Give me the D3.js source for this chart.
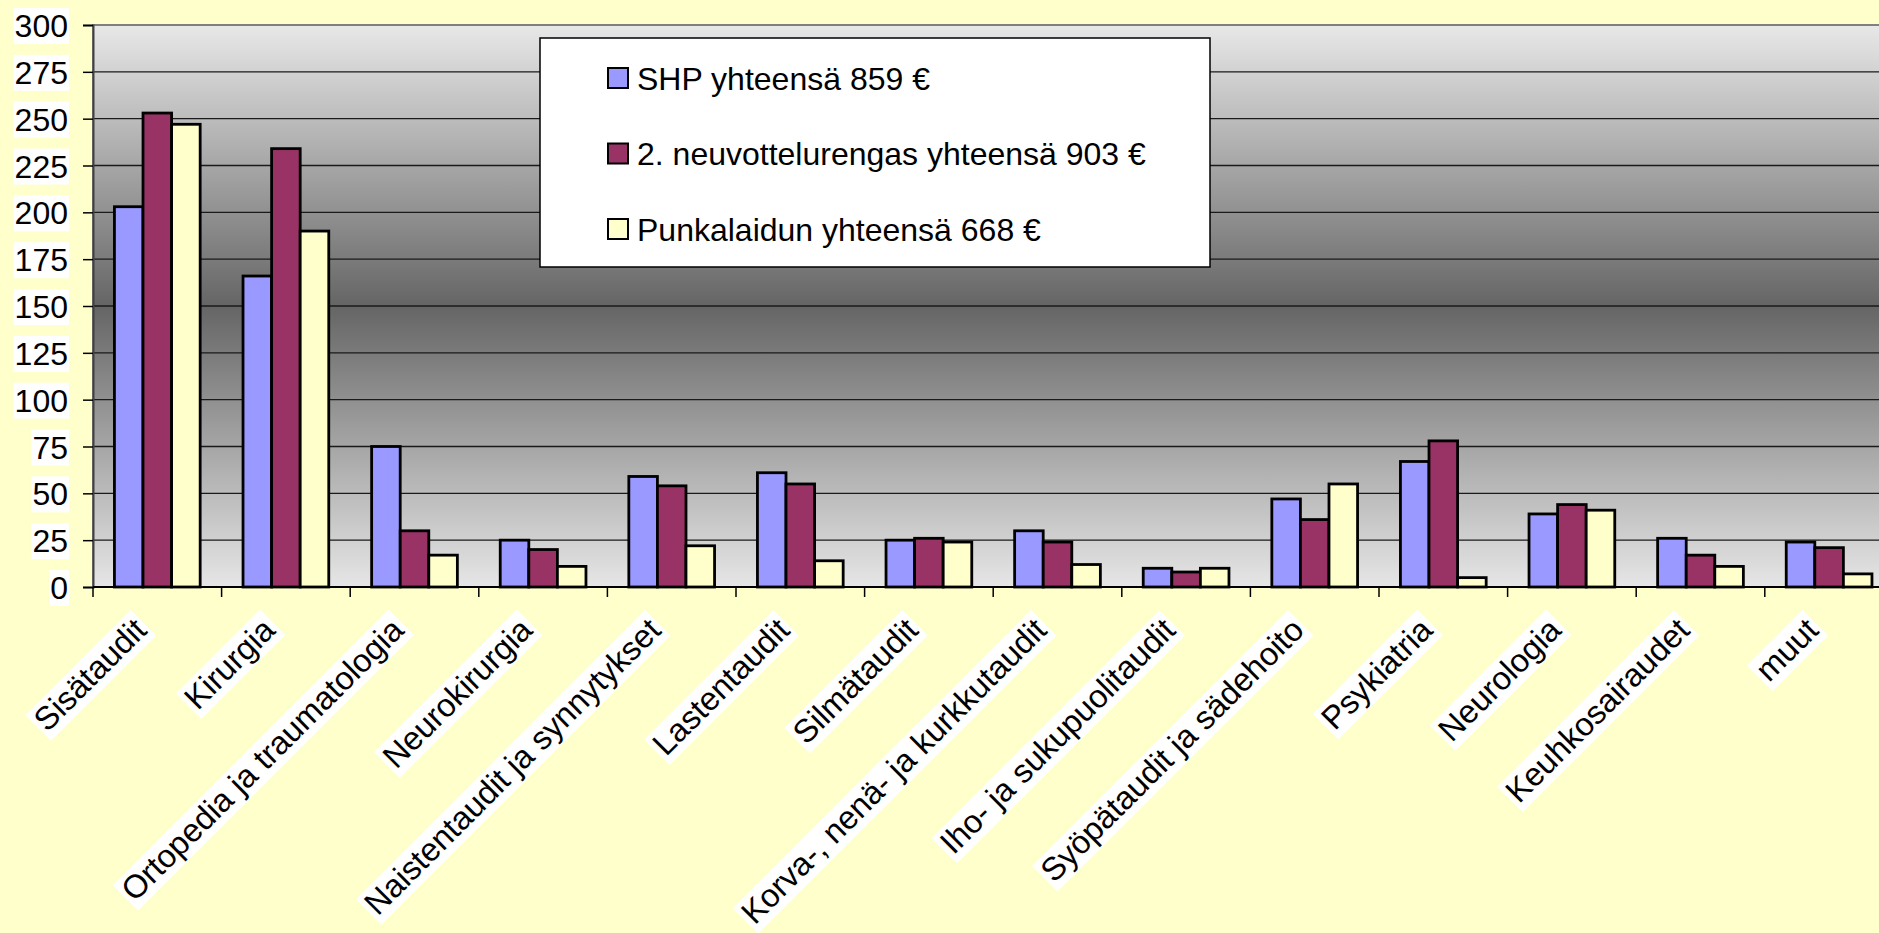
<!DOCTYPE html>
<html>
<head>
<meta charset="utf-8">
<script src="https://cdn.jsdelivr.net/npm/d3@7"></script>
<style>
  html, body { margin: 0; padding: 0; background: #FFFFCC; }
  svg { display: block; font-family: "Liberation Sans", Arial, sans-serif; }
</style>
</head>
<body>
<svg id="chart" width="1879" height="933"></svg>
<script>
(function(window, document, undefined) {

    //categories
    var categories = ["Sisätaudit", "Kirurgia", "Ortopedia ja traumatologia", "Neurokirurgia",
        "Naistentaudit ja synnytykset", "Lastentaudit", "Silmätaudit", "Korva-, nenä- ja kurkkutaudit",
        "Iho- ja sukupuolitaudit", "Syöpätaudit ja sädehoito", "Psykiatria", "Neurologia",
        "Keuhkosairaudet", "muut"];

    //series
    var seriesNames = ["SHP yhteensä 859 €", "2. neuvottelurengas yhteensä 903 €", "Punkalaidun yhteensä 668 €"];
    var shp = [203, 166, 75, 25, 59, 61, 25, 30, 10, 47, 67, 39, 26, 24];
    var neuvottelurengas = [253, 234, 30, 20, 54, 55, 26, 24, 8, 36, 78, 44, 17, 21];
    var punkalaidun = [247, 190, 17, 11, 22, 14, 24, 12, 10, 55, 5, 41, 11, 7];
    var seriesColors = ["#9999FF", "#993366", "#FFFFCC"];

    //ticks
    var yTicks = [0, 25, 50, 75, 100, 125, 150, 175, 200, 225, 250, 275, 300];

    var allSeries = [shp, neuvottelurengas, punkalaidun];

    var svg = d3.select("#chart");
    var left = 93, top = 25, bottom = 587, bandW = 128.6;
    var right = left + bandW * categories.length;

    var x0 = d3.scaleBand().domain(categories).range([left, right]).paddingInner(0).paddingOuter(0);
    var x1 = d3.scaleBand().domain(d3.range(seriesNames.length))
        .range([x0.bandwidth() / 6, x0.bandwidth() * 5 / 6]).padding(0);
    var y = d3.scaleLinear().domain([0, 300]).range([bottom, top]);

    //plot background gradient
    var defs = svg.append("defs");
    var grad = defs.append("linearGradient").attr("id", "bg")
        .attr("x1", 0).attr("y1", 0).attr("x2", 0).attr("y2", 1);
    grad.append("stop").attr("offset", "0%").attr("stop-color", "#e8e8e8");
    grad.append("stop").attr("offset", "50%").attr("stop-color", "#656565");
    grad.append("stop").attr("offset", "100%").attr("stop-color", "#e6e6e6");

    svg.append("rect")
        .attr("x", left).attr("y", top)
        .attr("width", right - left).attr("height", bottom - top)
        .attr("fill", "url(#bg)")
        .attr("stroke", "#808080").attr("stroke-width", 2);

    //gridlines
    svg.append("g").selectAll("line")
        .data(yTicks.filter(function(d) { return d > 0 && d < 300; }))
        .enter().append("line")
        .attr("x1", left).attr("x2", right)
        .attr("y1", function(d) { return y(d); })
        .attr("y2", function(d) { return y(d); })
        .attr("stroke", "#1a1a1a").attr("stroke-width", 1.3);

    //y axis
    var yAxis = svg.append("g").attr("transform", "translate(" + left + ",0)")
        .call(d3.axisLeft(y).tickValues(yTicks).tickSize(10).tickPadding(0).tickFormat(d3.format("d")));
    yAxis.select(".domain").attr("stroke", "#404040").attr("stroke-width", 2);
    yAxis.selectAll(".tick line").attr("stroke", "#000").attr("stroke-width", 1.5);
    yAxis.selectAll(".tick text")
        .attr("x", -25).attr("dy", "0.36em")
        .attr("font-size", 32).attr("fill", "#000")
        .attr("font-family", "Liberation Sans, Arial, sans-serif");
    yAxis.selectAll(".tick").each(function() {
        var t = d3.select(this).select("text");
        var b = t.node().getBBox();
        d3.select(this).insert("rect", "text")
            .attr("x", b.x - 1).attr("y", b.y)
            .attr("width", b.width + 2).attr("height", b.height)
            .attr("fill", "#fff");
    });

    //bars
    var groups = svg.append("g").selectAll("g")
        .data(categories).enter().append("g")
        .attr("transform", function(d) { return "translate(" + x0(d) + ",0)"; });

    groups.selectAll("rect")
        .data(function(d, i) { return allSeries.map(function(s, k) { return {k: k, v: s[i]}; }); })
        .enter().append("rect")
        .attr("x", function(d) { return x1(d.k); })
        .attr("y", function(d) { return y(d.v); })
        .attr("width", x1.bandwidth())
        .attr("height", function(d) { return y(0) - y(d.v); })
        .attr("fill", function(d) { return seriesColors[d.k]; })
        .attr("stroke", "#000").attr("stroke-width", 2.8);

    //x axis
    svg.append("line")
        .attr("x1", left).attr("x2", right)
        .attr("y1", bottom).attr("y2", bottom)
        .attr("stroke", "#000").attr("stroke-width", 2);

    var edges = categories.map(function(c) { return x0(c); }).concat([right]);
    svg.append("g").selectAll("line")
        .data(edges).enter().append("line")
        .attr("x1", function(d) { return d; }).attr("x2", function(d) { return d; })
        .attr("y1", bottom).attr("y2", bottom + 10)
        .attr("stroke", "#000").attr("stroke-width", 1.5);

    //category labels
    var labels = svg.append("g").selectAll("g")
        .data(categories).enter().append("g")
        .attr("transform", function(d) {
            return "translate(" + (x0(d) + x0.bandwidth() / 2 - 9) + "," + (bottom + 45) + ") rotate(-45)";
        });
    labels.append("text")
        .attr("text-anchor", "end")
        .attr("font-size", 32.5).attr("fill", "#000")
        .text(function(d) { return d; });
    labels.each(function() {
        var b = d3.select(this).select("text").node().getBBox();
        d3.select(this).insert("rect", "text")
            .attr("x", b.x - 3).attr("y", b.y + 1)
            .attr("width", b.width + 6).attr("height", b.height)
            .attr("fill", "#fff");
    });

    //legend
    var legend = svg.append("g");
    legend.append("rect")
        .attr("x", 540).attr("y", 38)
        .attr("width", 670).attr("height", 229)
        .attr("fill", "#fff").attr("stroke", "#000").attr("stroke-width", 1.5);

    var items = legend.selectAll("g.item")
        .data(seriesNames).enter().append("g").attr("class", "item")
        .attr("transform", function(d, i) { return "translate(608," + (78 + i * 75.5) + ")"; });
    items.append("rect")
        .attr("x", 0).attr("y", -10).attr("width", 20).attr("height", 20)
        .attr("fill", function(d, i) { return seriesColors[i]; })
        .attr("stroke", "#000").attr("stroke-width", 2);
    items.append("text")
        .attr("x", 29).attr("dy", "0.36em")
        .attr("font-size", 32).attr("fill", "#000")
        .text(function(d) { return d; });

})(window, document);
</script>
</body>
</html>
